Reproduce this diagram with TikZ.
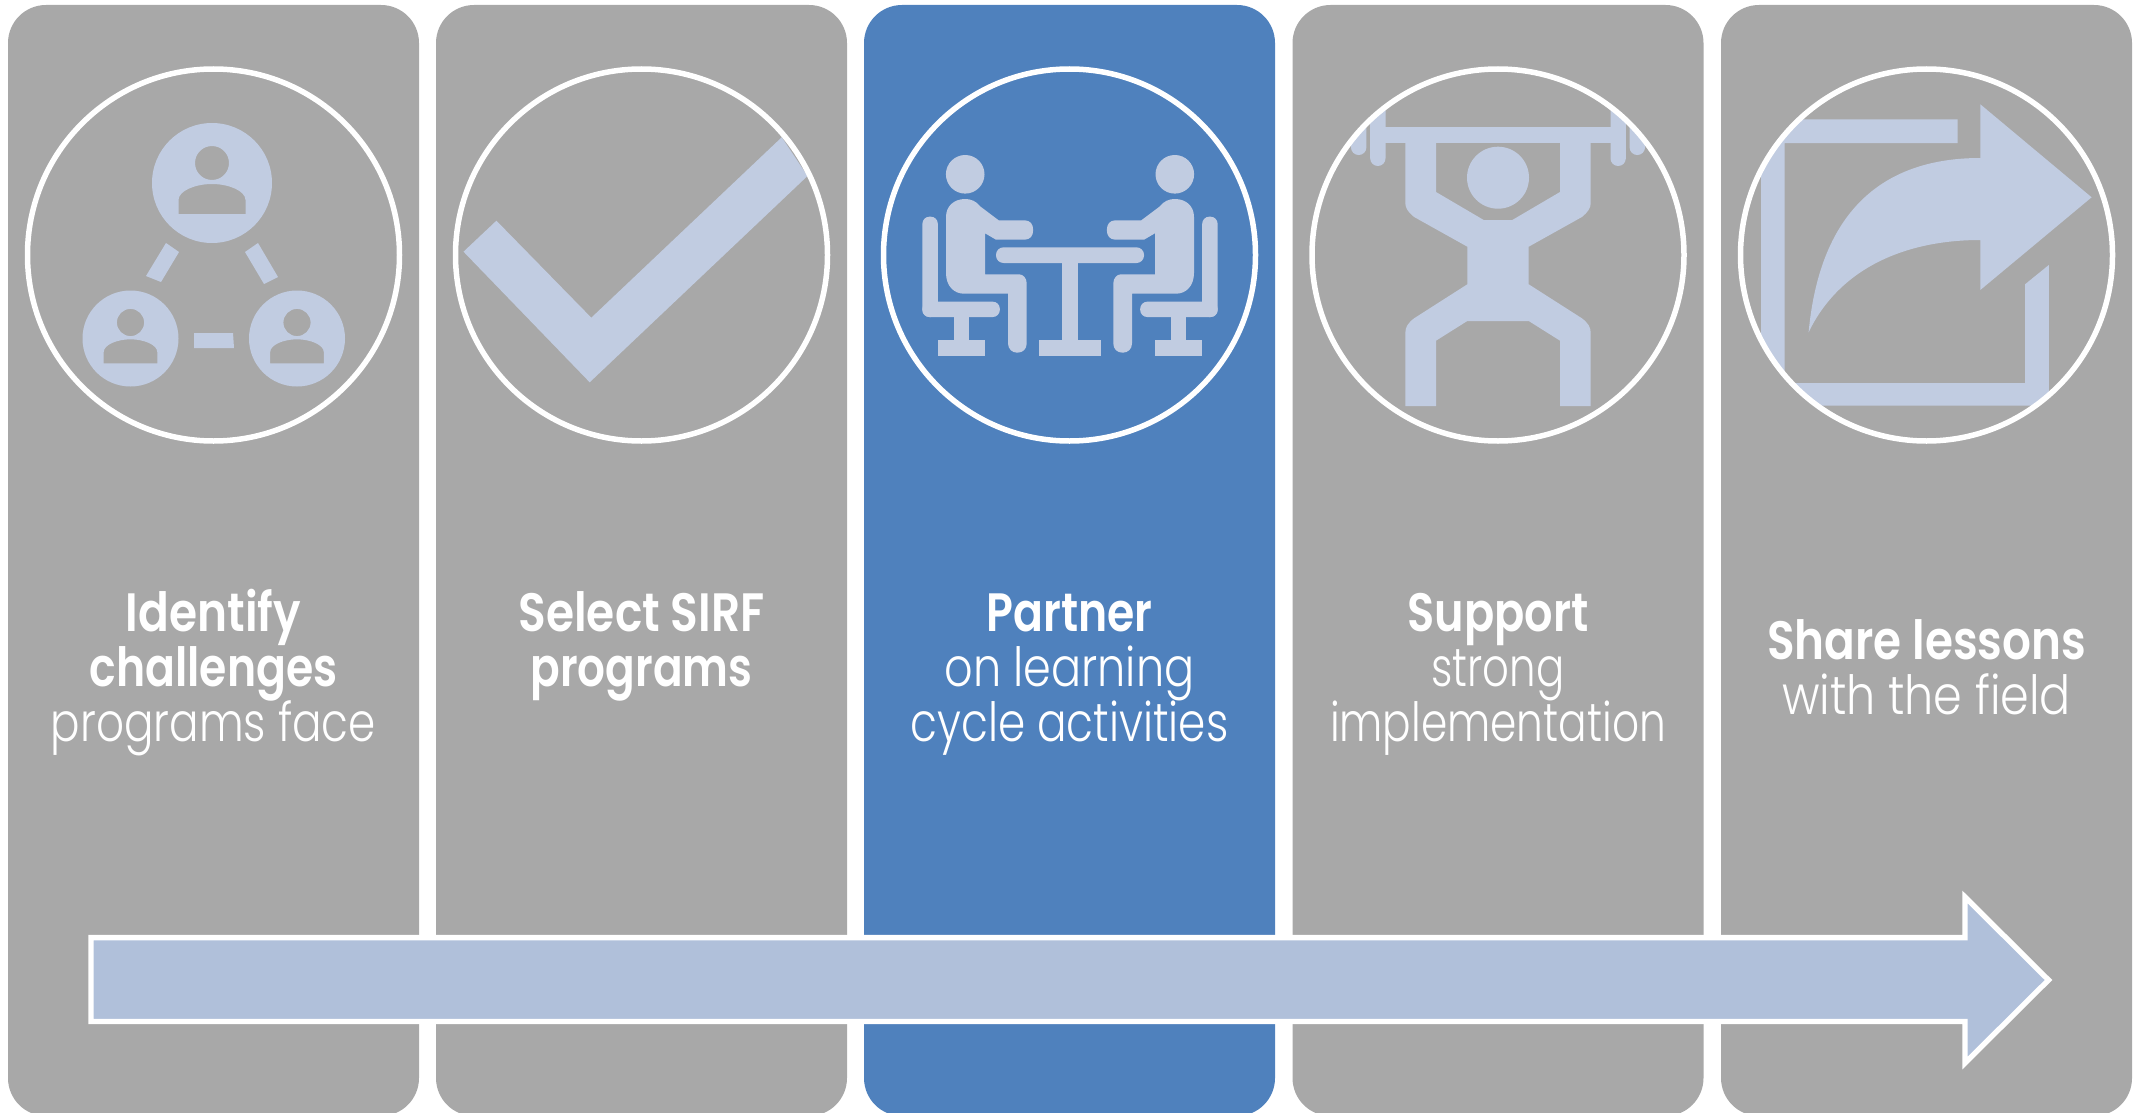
\documentclass[tikz,border=0pt]{standalone}
\usepackage{fontspec}
\usepackage{graphicx}
\setmainfont{Poppins Light}[BoldFont={Poppins SemiBold}]
\definecolor{panelgrey}{HTML}{A8A8A8}
\definecolor{panelblue}{HTML}{4F81BD}
\definecolor{iconblue}{HTML}{C1CCE1}
\definecolor{arrowblue}{HTML}{B0C0DA}
\lineskiplimit=-200pt
\newcommand\hvyline[2]{\resizebox{#1pt}{\height}{\bfseries #2}}
\newcommand\liteline[2]{\resizebox{#1pt}{\height}{#2}}
\newcommand\firststrut{\rule{0pt}{60pt}}
\tikzset{
  panelbox/.style={rectangle,fill=panelgrey,minimum width=411pt,minimum height=1111pt,rounded corners=38pt,inner sep=0pt,outer sep=0pt},
  ringline/.style={circle,draw=white,line width=5.5pt,minimum size=372pt,inner sep=0pt,outer sep=0pt},
  iconfill/.style={fill=iconblue},
  labeltext/.style={anchor=north,align=center,text=white,inner sep=0pt,outer sep=0pt,font=\fontsize{54}{55}\selectfont},
  flow/.style={fill=arrowblue,draw=white,line width=5.3pt,miter limit=10}
}
\newcommand\iconperson[3]{%
  \begin{scope}[shift={(#1,#2)},scale=#3]
    \fill[iconfill,even odd rule] (0,0) circle (60pt)
      (0,-20) circle (17pt)
      (-33.5,31) -- (-33.5,17) .. controls (-33.5,8) and (-17,1) .. (0,1) .. controls (17,1) and (33.5,8) .. (33.5,17) -- (33.5,31) -- cycle;
  \end{scope}}
\newcommand\iconsitter{%
  \fill[iconfill] (-104.8,174.3) circle (19.3pt);
  \fill[iconfill] (-89.4,206.7) .. controls (-94,201) and (-99,199) .. (-104.8,199) .. controls (-116,199) and (-124,206) .. (-124,217) -- (-124,273) .. controls (-124,286) and (-116,293.7) .. (-106,293.7) -- (-62,293.7) -- (-62,343.3) .. controls (-62,349) and (-58,352.7) .. (-52.7,352.7) .. controls (-47,352.7) and (-43.3,349) .. (-43.3,343.3) -- (-43.3,283.3) .. controls (-43.3,278) and (-47,274.3) .. (-51,274.3) -- (-85,274.3) -- (-85,233.3) -- (-74,239.7) -- (-45.5,239.7) .. controls (-40,239.7) and (-36.8,236) .. (-36.8,230) .. controls (-36.8,224) and (-40,220.3) .. (-45.5,220.3) -- (-71.3,220.3) -- cycle;
  \fill[iconfill,rounded corners=7pt] (-147.6,216.7) rectangle (-132.2,317);
  \fill[iconfill,rounded corners=7pt] (-147.6,301.7) rectangle (-70.2,317);
  \fill[iconfill] (-116.3,310) rectangle (-101,345);
  \fill[iconfill] (-132.2,340) rectangle (-85,356);}
\newcommand\iconplates{%
  \fill[iconfill,rounded corners=7.6pt] (-127.8,90) rectangle (-112.5,166);
  \fill[iconfill,rounded corners=7.6pt] (-147,90) rectangle (-131.6,155);}
\begin{document}
\begin{tikzpicture}[x=1pt,y=-1pt]
\useasboundingbox (0,0) rectangle (2138,1113);
% panels
\node[panelbox] (p1) at (213.5,560.5) {};
\node[panelbox] (p2) at (641.5,560.5) {};
\node[panelbox,fill=panelblue] (p3) at (1069.5,560.5) {};
\node[panelbox] (p4) at (1498,560.5) {};
\node[panelbox] (p5) at (1926.5,560.5) {};
% labels
\node[labeltext] (t1) at (213.5,571) {\firststrut\hvyline{175}{Identify}\\\hvyline{248}{challenges}\\\liteline{325}{programs face}};
\node[labeltext] (t2) at (641.5,571) {\firststrut\hvyline{246}{Select SIRF}\\\hvyline{222}{programs}};
\node[labeltext] (t3) at (1069.5,571) {\firststrut\hvyline{166}{Partner}\\\liteline{250}{on learning}\\\liteline{318}{cycle activities}};
\node[labeltext] (t4) at (1498,571) {\firststrut\hvyline{181}{Support}\\\liteline{133}{strong}\\\liteline{336}{implementation}};
\node[labeltext] (t5) at (1926.5,599) {\firststrut\hvyline{319}{Share lessons}\\\liteline{289}{with the field}};
% icon 1: people
\iconperson{212}{183}{1}
\iconperson{130.5}{338.5}{0.8}
\iconperson{297}{338.5}{0.8}
\fill[iconfill] (166,243) -- (179,252) -- (161,282) -- (146,276) -- cycle;
\fill[iconfill] (258,243) -- (245,252) -- (264,284) -- (278,277) -- cycle;
\fill[iconfill] (194,333) -- (233,333) -- (234,348) -- (194,348) -- cycle;
% icon 2: check
\begin{scope}
\clip (641.5,255) circle (186pt);
\fill[iconfill] (496.4,220.7) -- (591.3,317.7) -- (781.7,137.3) -- (807.5,176) -- (589.7,382.3) -- (463.5,251.7) -- cycle;
\end{scope}
% icon 3: meeting
\begin{scope}[shift={(1070,0)}]
\iconsitter
\begin{scope}[xscale=-1]\iconsitter\end{scope}
\fill[iconfill,rounded corners=7.5pt] (-74,247.3) rectangle (74,263);
\fill[iconfill] (-7.7,260) rectangle (7.7,345);
\fill[iconfill] (-31,340) rectangle (31,356);
\end{scope}
% icon 4: lifter
\begin{scope}
\clip (1498,255) circle (186pt);
\begin{scope}[shift={(1498,0)}]
\iconplates
\begin{scope}[xscale=-1]\iconplates\end{scope}
\fill[iconfill] (-115,127.3) rectangle (115,142.7);
\fill[iconfill] (0,177.7) circle (31pt);
\fill[iconfill] (-92.7,140) -- (-92.7,203) .. controls (-92.7,208) and (-90,212) .. (-83.9,217) -- (-30.7,246.7) -- (-30.7,284.3) -- (-83.9,318.3) .. controls (-90,323) and (-92.7,327) .. (-92.7,333) -- (-92.7,406) -- (-62,406) -- (-62,340.7) -- (-30.7,321) -- (30.7,321) -- (62,340.7) -- (62,406) -- (92.7,406) -- (92.7,333) .. controls (92.7,327) and (90,323) .. (83.9,318.3) -- (30.7,284.3) -- (30.7,246.7) -- (83.9,217) .. controls (90,212) and (92.7,208) .. (92.7,203) -- (92.7,140) -- (62,140) -- (62,192) -- (14.3,220) -- (-14.3,220) -- (-62,192) -- (-62,140) -- cycle;
\end{scope}
\end{scope}
% icon 5: share
\begin{scope}
\clip (1926.5,255) circle (186pt);
\fill[iconfill] (1957.6,119.3) -- (1957.6,143) -- (1784.5,143) -- (1784.5,383) -- (2025,383) -- (2025,284.3) -- (2048.8,265) -- (2048.8,405.7) -- (1761,405.7) -- (1761,119.3) -- cycle;
\fill[iconfill] (2091.6,197.3) -- (1980.3,104.3) -- (1980.3,158) .. controls (1887,158) and (1820.3,206.7) .. (1808.6,332.3) .. controls (1840,267) and (1907,240) .. (1980.3,240) -- (1980.3,290) -- cycle;
\end{scope}
% rings
\node[ringline] (c1) at (213.5,255) {};
\node[ringline] (c2) at (641.5,255) {};
\node[ringline] (c3) at (1069.5,255) {};
\node[ringline] (c4) at (1498,255) {};
\node[ringline] (c5) at (1926.5,255) {};
% arrow
\draw[flow] (91,937.6) -- (1965,937.6) -- (1965,897) -- (2048.5,980) -- (1965,1063) -- (1965,1021.4) -- (91,1021.4) -- cycle;
\end{tikzpicture}
\end{document}
